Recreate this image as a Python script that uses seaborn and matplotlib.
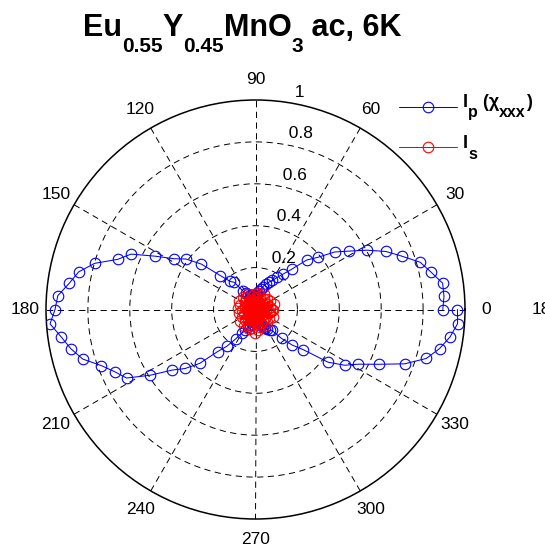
import numpy as np
import pandas as pd
import matplotlib
matplotlib.use("Agg")
import matplotlib.pyplot as plt
import seaborn as sns
from matplotlib.transforms import IdentityTransform

sns.set_style("white")
plt.rcParams["font.family"] = ["Liberation Sans", "DejaVu Sans"]
plt.rcParams["lines.scale_dashes"] = False
plt.rcParams["text.color"] = "black"

# polarizer angle (deg), sampled every 4 degrees over a full turn
angles_deg = list(range(0, 361, 4))

# parallel-polarized SHG intensity, chi_xxx
ip_vals = [0.894, 0.902, 0.902, 0.857, 0.818, 0.744, 0.681, 0.603, 0.526, 0.467,
           0.387, 0.340, 0.259, 0.215, 0.185, 0.160, 0.145, 0.130, 0.115, 0.100,
           0.090, 0.080, 0.070, 0.065, 0.060, 0.060, 0.065, 0.070, 0.075, 0.080,
           0.090, 0.105, 0.165, 0.180, 0.233, 0.337, 0.410, 0.457, 0.542, 0.650,
           0.700, 0.799, 0.863, 0.898, 0.946, 0.957, 0.983, 0.937, 0.901, 0.858,
           0.783, 0.733, 0.697, 0.592, 0.492, 0.438, 0.370, 0.270, 0.223, 0.169,
           0.130, 0.110, 0.090, 0.080, 0.070, 0.060, 0.060, 0.050, 0.050, 0.060,
           0.060, 0.070, 0.080, 0.090, 0.100, 0.110, 0.120, 0.125, 0.186, 0.245,
           0.299, 0.428, 0.502, 0.556, 0.643, 0.758, 0.848, 0.898, 0.938, 0.967,
           0.964]

# crossed-polarized SHG intensity
is_vals = [0.085, 0.030, 0.070, 0.015, 0.090, 0.040, 0.060, 0.020, 0.080, 0.045,
           0.025, 0.075, 0.035, 0.065, 0.010, 0.085, 0.050, 0.025, 0.070, 0.040,
           0.080, 0.020, 0.060, 0.035, 0.075, 0.015, 0.065, 0.045, 0.030, 0.080,
           0.050, 0.020, 0.070, 0.040, 0.085, 0.025, 0.060, 0.030, 0.090, 0.045,
           0.020, 0.075, 0.050, 0.030, 0.085, 0.040, 0.065, 0.015, 0.080, 0.035,
           0.060, 0.025, 0.075, 0.045, 0.090, 0.030, 0.070, 0.020, 0.055, 0.095,
           0.040, 0.080, 0.030, 0.100, 0.050, 0.090, 0.035, 0.110, 0.060, 0.100,
           0.045, 0.085, 0.025, 0.070, 0.090, 0.035, 0.065, 0.020, 0.080, 0.040,
           0.060, 0.025, 0.075, 0.045, 0.090, 0.030, 0.065, 0.015, 0.070, 0.050,
           0.080]

angle_ticks = list(range(0, 360, 30))
radial_ticks = [0.2, 0.4, 0.6, 0.8, 1.0]
radial_labels = ["0.2", "0.4", "0.6", "0.8", "1"]

df = pd.DataFrame({"theta": np.deg2rad(angles_deg), "Ip": ip_vals, "Is": is_vals})

W, H = 545, 551
fig = plt.figure(figsize=(W / 100, H / 100), dpi=100)
fig.patch.set_facecolor("white")
ax = fig.add_axes([46 / W, 32 / H, 419 / W, 419 / H], projection="polar")

tick_fs = 12.5
line_kw = dict(sort=False, estimator=None, marker="o", markersize=7.6,
               markerfacecolor="none", markeredgewidth=0.8, linewidth=0.75)
sns.lineplot(data=df, x="theta", y="Ip", ax=ax, color="#0000ff",
             markeredgecolor="#0000ff", label="Ip", zorder=3, **line_kw)
sns.lineplot(data=df, x="theta", y="Is", ax=ax, color="#ff0000",
             markeredgecolor="#ff0000", label="Is", zorder=4, **line_kw)

ax.set_xlabel("")
ax.set_ylabel("")
ax.set_ylim(0, 1)
ax.set_xticks(np.deg2rad(angle_ticks))
ax.set_yticks(radial_ticks[:-1])
ax.set_xticklabels([])
ax.set_yticklabels([])
ax.grid(True, color="black", linestyle=(0, (4.5, 3.2)), linewidth=0.7)
ax.spines["polar"].set_color("black")
ax.spines["polar"].set_linewidth(1.1)
ax.set_facecolor("white")

# angle labels just outside the outer ring
for deg in angle_ticks:
    ax.text(np.deg2rad(deg), 1.1, str(deg), ha="center", va="center",
            fontsize=tick_fs, clip_on=False)
# radial labels along the 82 degree line
for v, lab in zip(radial_ticks, radial_labels):
    ax.text(np.deg2rad(82), v + 0.01, "  " + lab, ha="left", va="bottom",
            fontsize=tick_fs, clip_on=False)

fig.text(532 / W, 1 - 309.5 / H, "180", ha="left", va="center", fontsize=tick_fs)

# legend keys only; the labels are typeset separately with deep subscripts
leg = ax.legend(loc="upper left", bbox_to_anchor=(399 / W, 1 - 100.5 / H),
                bbox_transform=fig.transFigure, frameon=False, fontsize=13,
                handlelength=3.2, handletextpad=0.35, labelspacing=1.25,
                borderpad=0, borderaxespad=0)
for txt in leg.get_texts():
    txt.set_text("")

renderer = fig.canvas.get_renderer()


def rich_text(x, baseline_from_top, pieces):
    for s, size, drop in pieces:
        t = fig.text(x, H - baseline_from_top - drop, s, fontsize=size,
                     fontweight="bold", transform=IdentityTransform(),
                     ha="left", va="baseline")
        x = t.get_window_extent(renderer).x1


rich_text(463, 106.7, [("I", 13, 0), ("p", 11.5, 10.5), (" (\u03c7", 13, 0),
                       ("xxx", 11.5, 10.5), (")", 13, 0)])
rich_text(463, 148.5, [("I", 13, 0), ("s", 11.5, 10.5)])

# title with lowered subscripts, laid out piece by piece
rich_text(83.0, 36, [("Eu", 22, 0), ("0.55", 15, 16), ("Y", 22, 0),
                     ("0.45", 15, 16), ("MnO", 22, 0), ("3", 15, 16),
                     (" ac, 6K", 22, 0)])

fig.savefig("out.png", dpi=100, facecolor="white")
